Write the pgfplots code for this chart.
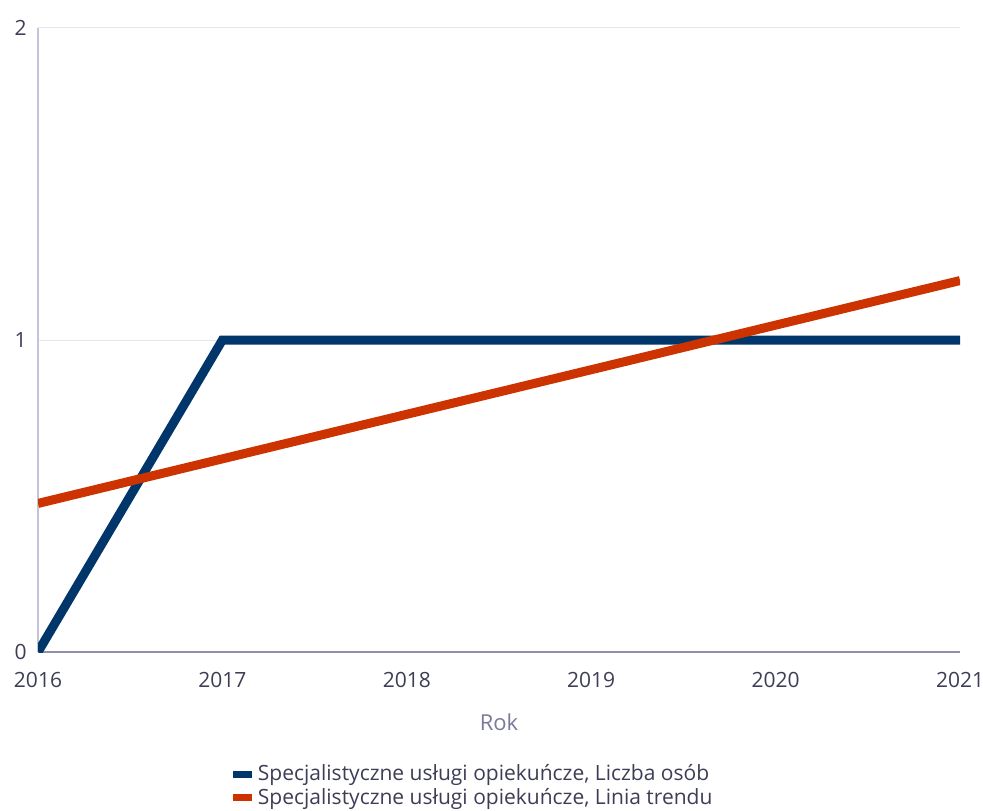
\documentclass[border=0pt]{standalone}
\usepackage{fontspec}
\setmainfont{Open Sans}
\usepackage{pgfplots}
\pgfplotsset{compat=1.18}
\definecolor{txt}{HTML}{3D3D55}
\definecolor{lbl}{HTML}{7A7A99}
\definecolor{axl}{HTML}{C4C4D8}
\definecolor{axb}{HTML}{9090AC}
\definecolor{grd}{HTML}{E6E6EA}
\definecolor{osoby}{HTML}{00366A}
\definecolor{trend}{HTML}{CC3300}
\begin{document}
\begin{tikzpicture}
\useasboundingbox (0,0) rectangle (491.5pt,405pt);
\begin{axis}[
    at={(19pt,79pt)}, anchor=south west,
    scale only axis, width=461pt, height=312pt,
    xmin=2016, xmax=2021, ymin=0, ymax=2,
    xtick={2016,2017,2018,2019,2020,2021},
    ytick={0,1,2},
    axis x line*=bottom, axis y line*=left,
    x axis line style={draw=axb, line width=0.6pt, -},
    y axis line style={draw=axl, line width=0.8pt, -},
    major tick length=0pt,
    ymajorgrids=true,
    grid style={draw=grd, line width=0.5pt},
    font=\fontsize{10.5}{12.6}\selectfont,
    /pgf/number format/assume math mode=true,
    /pgf/number format/set thousands separator={},
    ticklabel style={text=txt, font=\fontsize{10.5}{12.6}\selectfont},
    xticklabel style={inner sep=0pt, anchor=north, yshift=-10pt},
    yticklabel style={inner sep=0pt, anchor=east, xshift=-5.5pt},
    xlabel={Rok},
    xlabel style={text=lbl, at={(axis description cs:0.5,-0.112)}, anchor=center, font=\fontsize{11}{13}\selectfont},
    legend cell align=left,
    legend style={draw=none, fill=none, text=txt, inner sep=0pt,
        at={(axis description cs:0.211,-0.177)}, anchor=north west,
        row sep=0pt, font=\fontsize{10.5}{12}\selectfont,
        nodes={inner sep=1pt}},
    legend image code/.code={\fill[#1, draw=none] (0pt,-1.8pt) rectangle (9.5pt,1.8pt);},
]
\addplot[color=osoby, line width=4.5pt, line cap=butt, line join=miter] coordinates {
    (2016,0) (2017,1) (2018,1) (2019,1) (2020,1) (2021,1)
};
\addlegendentry{\hspace{2pt}Specjalistyczne usługi opiekuńcze, Liczba osób}
\addplot[color=trend, line width=4.5pt, line cap=butt] coordinates {
    (2016,0.4762) (2021,1.1905)
};
\addlegendentry{\hspace{2pt}Specjalistyczne usługi opiekuńcze, Linia trendu}
\end{axis}
\end{tikzpicture}
\end{document}
